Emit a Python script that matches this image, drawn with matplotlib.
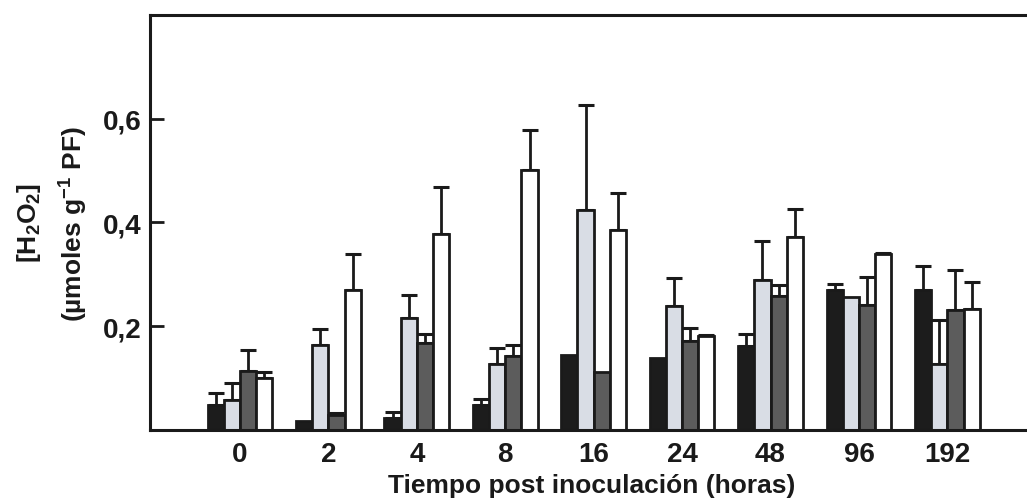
import numpy as np
import matplotlib
matplotlib.use('Agg')
import matplotlib.pyplot as plt

plt.rcParams['font.family'] = ['Liberation Sans', 'DejaVu Sans']
plt.rcParams['font.weight'] = 'bold'
plt.rcParams['mathtext.fontset'] = 'custom'
plt.rcParams['mathtext.rm'] = 'Liberation Sans:bold'
plt.rcParams['mathtext.it'] = 'Liberation Sans:bold'
plt.rcParams['mathtext.bf'] = 'Liberation Sans:bold'
plt.rcParams['mathtext.default'] = 'rm'

horas = ['0', '2', '4', '8', '16', '24', '48', '96', '192']

# H2O2 content per treatment (4 series) and upper error
serie_1 = [0.049, 0.018, 0.024, 0.049, 0.144, 0.138, 0.162, 0.270, 0.270]
error_1 = [0.022, 0.0, 0.010, 0.010, 0.0, 0.0, 0.023, 0.012, 0.047]
serie_2 = [0.058, 0.164, 0.215, 0.127, 0.424, 0.239, 0.290, 0.257, 0.127]
error_2 = [0.032, 0.030, 0.045, 0.032, 0.202, 0.054, 0.075, 0.0, 0.085]
serie_3 = [0.113, 0.029, 0.167, 0.142, 0.111, 0.172, 0.259, 0.241, 0.232]
error_3 = [0.041, 0.004, 0.018, 0.022, 0.0, 0.024, 0.020, 0.053, 0.076]
serie_4 = [0.101, 0.269, 0.378, 0.502, 0.385, 0.181, 0.371, 0.339, 0.233]
error_4 = [0.010, 0.070, 0.090, 0.077, 0.072, 0.003, 0.055, 0.003, 0.053]

series = [serie_1, serie_2, serie_3, serie_4]
errores = [error_1, error_2, error_3, error_4]
colores = ['#1c1c1c', '#d9dde5', '#5c5c5c', '#ffffff']

fig = plt.figure(figsize=(10.27, 5.02), dpi=100)
ax = fig.add_axes([0.146, 0.1414, 0.86, 0.827])

x = np.arange(len(horas))
w = 0.183
for i, (vals, errs, c) in enumerate(zip(series, errores, colores)):
    pos = x + (i - 1.5) * w
    ax.bar(pos, vals, width=w, color=c, edgecolor='#1a1a1a', linewidth=2.0, zorder=2)
    vals = np.array(vals)
    errs = np.array(errs)
    m = errs > 0
    ax.errorbar(pos[m], vals[m], yerr=[np.zeros(m.sum()), errs[m]], fmt='none',
                ecolor='#1a1a1a', elinewidth=2.0, capsize=5.8, capthick=2.2, zorder=1)

ax.set_xlim(-1.018, 8.97)
ax.set_ylim(0, 0.8)
ax.set_yticks([0.2, 0.4, 0.6])
ax.set_yticklabels(['0,2', '0,4', '0,6'], fontsize=20, fontweight='bold')
ax.set_xticks(x)
ax.set_xticklabels(horas, fontsize=20, fontweight='bold')
ax.tick_params(axis='y', direction='in', length=10, width=2.0, pad=6, colors='#1a1a1a')
ax.tick_params(axis='x', length=0, pad=8, colors='#1a1a1a')
for s in ['left', 'top', 'bottom']:
    ax.spines[s].set_linewidth(2.2)
    ax.spines[s].set_color('#1a1a1a')
ax.spines['right'].set_visible(False)

ax.set_xlabel('Tiempo post inoculación (horas)', fontsize=19, fontweight='bold',
              color='#1a1a1a', labelpad=4)
ax.set_ylabel('[H$_2$O$_2$]\n(µmoles g$^{-1}$ PF)', fontsize=19, fontweight='bold',
              color='#1a1a1a', labelpad=9, linespacing=1.6)

fig.savefig('out.png', dpi=100)
